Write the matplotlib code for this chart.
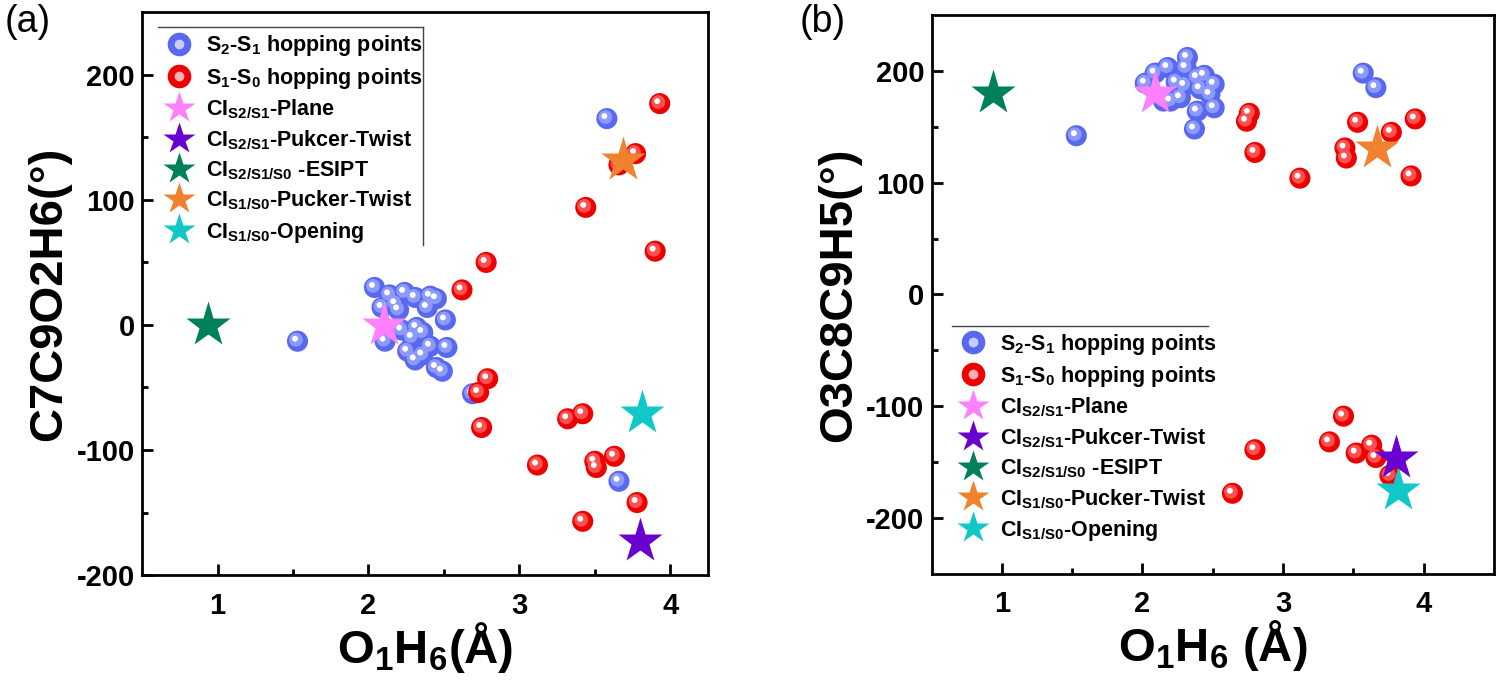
import matplotlib
matplotlib.use('Agg')
import matplotlib.pyplot as plt
import matplotlib.transforms as mtransforms
from matplotlib.lines import Line2D

plt.rcParams['font.family'] = ['Liberation Sans', 'DejaVu Sans']
plt.rcParams['font.weight'] = 'bold'
plt.rcParams['axes.labelweight'] = 'bold'
plt.rcParams['mathtext.fontset'] = 'custom'
plt.rcParams['mathtext.rm'] = 'Liberation Sans:bold'
plt.rcParams['mathtext.it'] = 'Liberation Sans:bold'
plt.rcParams['mathtext.bf'] = 'Liberation Sans:bold'
plt.rcParams['axes.unicode_minus'] = False

# ---- panel (a) data ----
a_s2s1_x = [1.53, 2.04, 2.14, 2.24, 2.31, 2.41, 2.45, 2.09, 2.18, 2.20, 2.39, 2.51, 2.32, 2.22,
            2.11, 2.41, 2.52, 2.26, 2.31, 2.45, 2.36, 2.29, 2.36, 2.49, 2.69, 3.58, 3.66]
a_s2s1_y = [-13, 30, 24, 26, 22, 23, 21, 14, 17, 12, 14, 4, -2, -4,
            -13, -17, -18, -21, -28, -34, -24, -10, -6, -37, -55, 165, -125]
a_s1s0_x = [2.62, 2.78, 3.44, 3.66, 3.77, 3.93, 3.90, 2.79, 2.73, 2.75, 3.32, 3.42, 3.12, 3.50,
            3.51, 3.63, 3.78, 3.42]
a_s1s0_y = [28, 50, 94, 128, 137, 177, 59, -43, -54, -82, -75, -71, -112, -109,
            -114, -105, -142, -157]
# plane, pucker-twist(S2/S1), ESIPT, pucker-twist(S1/S0), opening
a_ci_x = [2.10, 3.80, 0.94, 3.69, 3.81]
a_ci_y = [0, -173, 0, 132, -70]

# ---- panel (b) data ----
b_s2s1_x = [1.53, 2.32, 2.31, 2.18, 2.09, 2.02, 2.39, 2.51, 2.30, 2.41, 2.27, 2.39, 2.51, 2.37,
            2.20, 2.15, 2.48, 2.44, 2.24, 3.57, 3.66]
b_s2s1_y = [142, 212, 203, 203, 198, 189, 194, 188, 187, 184, 176, 164, 167, 148,
            173, 173, 179, 196, 190, 198, 185]
b_s1s0_x = [2.76, 2.74, 2.80, 3.12, 3.53, 3.94, 3.77, 3.44, 3.45, 3.91, 3.43, 3.33, 3.52, 3.63,
            3.66, 3.76, 2.80, 2.64]
b_s1s0_y = [162, 155, 127, 104, 154, 157, 145, 131, 122, 106, -109, -132, -142, -135,
            -146, -162, -139, -178]
b_ci_x = [2.09, 3.80, 0.94, 3.67, 3.82]
b_ci_y = [180, -146, 180, 131, -175]

x_ticks = [1, 2, 3, 4]
y_ticks = [-200, -100, 0, 100, 200]

ci_labels = ['CI$_{S2/S1}$-Plane', 'CI$_{S2/S1}$-Pukcer-Twist', 'CI$_{S2/S1/S0}$ -ESIPT',
             'CI$_{S1/S0}$-Pucker-Twist', 'CI$_{S1/S0}$-Opening']
ci_colors = ['#ff80ff', '#6a00d0', '#00805a', '#f0822e', '#10c8c8']
ci_order = [2, 0, 3, 4, 1]  # drawing order

blue = ('#5868ef', '#8c9aff')
red = ('#ee0000', '#ff5050')


def balls(ax, fig, x, y, cols):
    ax.scatter(x, y, s=230, color=cols[0], edgecolors='none', zorder=3)
    t1 = mtransforms.offset_copy(ax.transData, fig=fig, x=-1.5, y=1.5, units='dots')
    ax.scatter(x, y, s=100, color=cols[1], edgecolors='none', zorder=3, transform=t1)
    t2 = mtransforms.offset_copy(ax.transData, fig=fig, x=-2.5, y=2.5, units='dots')
    ax.scatter(x, y, s=18, color='white', edgecolors='none', zorder=3, transform=t2)


def panel(ax, fig, s2x, s2y, s1x, s1y, cix, ciy, ylim, xlim):
    balls(ax, fig, s2x, s2y, blue)
    balls(ax, fig, s1x, s1y, red)
    for i in ci_order:
        ax.plot(cix[i], ciy[i], marker='*', ms=34, color=ci_colors[i], mec='none',
                ls='none', zorder=4)
    ax.set_xlim(*xlim)
    ax.set_ylim(*ylim)
    ax.set_xticks(x_ticks, [str(v) for v in x_ticks], fontweight='bold')
    ax.set_xticks([1.5, 2.5, 3.5], minor=True)
    ax.set_yticks(y_ticks, [str(v) for v in y_ticks], fontweight='bold')
    ax.set_yticks([v + 50 for v in y_ticks[:-1]], minor=True)
    ax.tick_params(which='major', direction='in', length=8, width=2, labelsize=21)
    ax.tick_params(axis='x', which='major', pad=12)
    ax.tick_params(axis='y', which='major', pad=5)
    ax.tick_params(which='minor', direction='in', length=4, width=2)
    for sp in ax.spines.values():
        sp.set_linewidth(2)
        sp.set_color('black')


def legend(ax, top, x0, x1, right_line):
    handles = [(Line2D([], [], marker='o', ms=16, color=blue[0], ls='none'),
                Line2D([], [], marker='o', ms=6, color='#c8ceff', ls='none')),
               (Line2D([], [], marker='o', ms=16, color=red[0], ls='none'),
                Line2D([], [], marker='o', ms=6, color='#ffb0b0', ls='none'))]
    for c in ci_colors:
        handles.append(Line2D([], [], marker='*', ms=24, color=c, mec='none', ls='none'))
    labels = ['S$_2$-S$_1$ hopping points', 'S$_1$-S$_0$ hopping points'] + ci_labels
    ax.legend(handles, labels, loc='upper left', bbox_to_anchor=(x0, top - 0.003),
              frameon=False, prop={'size': 15.5, 'weight': 'bold'}, labelspacing=0.33,
              handletextpad=0.45, borderpad=0.2, borderaxespad=0, handlelength=1.6)
    ax.plot([x0, x1], [top, top], color='#444444', lw=1, transform=ax.transAxes,
            clip_on=False)
    if right_line is not None:
        ax.plot([x1, x1], [top, right_line], color='#444444', lw=1,
                transform=ax.transAxes, clip_on=False)


fig = plt.figure(figsize=(15, 6.83), dpi=100)
ax1 = fig.add_axes([0.0947, 0.158, 0.3773, 0.824])
ax2 = fig.add_axes([0.621, 0.160, 0.375, 0.818])

panel(ax1, fig, a_s2s1_x, a_s2s1_y, a_s1s0_x, a_s1s0_y, a_ci_x, a_ci_y,
      (-200, 250), (0.5, 4.25))
panel(ax2, fig, b_s2s1_x, b_s2s1_y, b_s1s0_x, b_s1s0_y, b_ci_x, b_ci_y,
      (-250, 250), (0.5, 4.5))

legend(ax1, 0.973, 0.028, 0.496, 0.586)
legend(ax2, 0.444, 0.036, 0.491, None)

ax1.set_xlabel('O$_1$H$_6$(Å)', fontsize=34, fontweight='bold', labelpad=0)
ax1.set_ylabel('C7C9O2H6(°)', fontsize=34, fontweight='bold', labelpad=4)
ax2.set_xlabel('O$_1$H$_6$ (Å)', fontsize=34, fontweight='bold', labelpad=0)
ax2.set_ylabel('O3C8C9H5(°)', fontsize=34, fontweight='bold', labelpad=4)

fig.text(0.003, 0.968, '(a)', fontsize=27, fontweight='normal', va='center', ha='left')
fig.text(0.533, 0.968, '(b)', fontsize=27, fontweight='normal', va='center', ha='left')

fig.savefig('out.png', dpi=100)
